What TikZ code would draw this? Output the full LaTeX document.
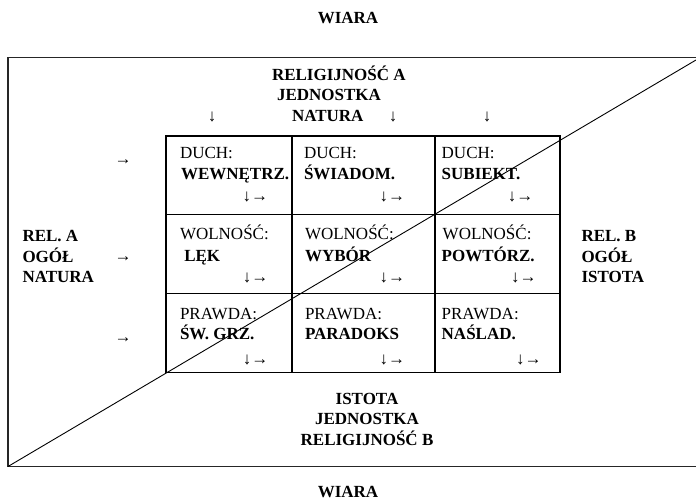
\documentclass[tikz,border=0pt]{standalone}
\usepackage{fontspec}
\setmainfont{Liberation Serif}
\begin{document}
\begin{tikzpicture}[x=1pt,y=-1pt,
  every node/.style={inner sep=0pt,outer sep=0pt,font=\fontsize{17}{20.5}\selectfont},
  rg/.style={anchor=base west},
  bd/.style={anchor=base west,font=\fontsize{17}{20.5}\selectfont\bfseries},
  bc/.style={anchor=base,font=\fontsize{17}{20.5}\selectfont\bfseries},
  ar/.style={anchor=base east},
  arc/.style={anchor=base},
  frame/.style={line width=1.3pt,draw=black!85},
  gridl/.style={line width=1.2pt},
  diag/.style={line width=0.9pt}]
\useasboundingbox (0,0) rectangle (696,501);
% frame
\coordinate (ftr) at (700,57.5);
\coordinate (ftl) at (8,57.5);
\coordinate (fbl) at (8,466.5);
\coordinate (fbr) at (700,466.5);
\draw[frame] (ftr) -- (ftl) -- (fbl) -- (fbr);
% grid
\coordinate (g1) at (166,136);
\coordinate (g2) at (560,372.5);
\draw[gridl] (g1) rectangle (g2);
\draw[gridl] (292,136) -- (292,372.5);
\draw[gridl] (435,136) -- (435,372.5);
\draw[gridl] (166,214.5) -- (560,214.5);
\draw[gridl] (166,293.5) -- (560,293.5);
% titles
\node[bc] (wtop) at (348,23.5) {WIARA};
\node[bc] (wbot) at (348,497.5) {WIARA};
\node[bd] (t1) at (272,80) {RELIGIJNOŚĆ A};
\node[bd] (t2) at (277,100.5) {JEDNOSTKA};
\node[bd] (t3) at (292,121) {NATURA};
\node[arc] (d1) at (212,121.5) {↓};
\node[arc] (d2) at (393,121.5) {↓};
\node[arc] (d3) at (487,121.5) {↓};
\node[bc] (b1) at (367,404) {ISTOTA};
\node[bc] (b2) at (367,424.5) {JEDNOSTKA};
\node[bc] (b3) at (367,445) {RELIGIJNOŚĆ B};
% side labels
\node[bd] (l1) at (22.5,241.7) {REL. A};
\node[bd] (l2) at (22.5,262.3) {OGÓŁ};
\node[bd] (l3) at (22.5,282.7) {NATURA};
\node[bd] (r1) at (581.5,241.7) {REL. B};
\node[bd] (r2) at (581.5,262.3) {OGÓŁ};
\node[bd] (r3) at (581.5,282.7) {ISTOTA};
\node[arc] (h1) at (123,164.5) {→};
\node[arc] (h2) at (123,261) {→};
\node[arc] (h3) at (123,342.8) {→};
% row 1
\node[rg] (c11a) at (180,158.7) {DUCH:};
\node[bd] (c11b) at (181,179.3) {WEWNĘTRZ.};
\node[ar] (c11c) at (268,201) {↓→};
\node[rg] (c12a) at (304,158.7) {DUCH:};
\node[bd] (c12b) at (304,179.3) {ŚWIADOM.};
\node[ar] (c12c) at (405,201) {↓→};
\node[rg] (c13a) at (441.7,158.7) {DUCH:};
\node[bd] (c13b) at (441.7,179.3) {SUBIEKT.};
\node[ar] (c13c) at (533.3,201) {↓→};
% row 2
\node[rg] (c21a) at (180,239.3) {WOLNOŚĆ:};
\node[bd] (c21b) at (184.3,261) {LĘK};
\node[ar] (c21c) at (268.3,282) {↓→};
\node[rg] (c22a) at (305,239.3) {WOLNOŚĆ:};
\node[bd] (c22b) at (305,261) {WYBÓR};
\node[ar] (c22c) at (405,282) {↓→};
\node[rg] (c23a) at (442.7,239.3) {WOLNOŚĆ:};
\node[bd] (c23b) at (441.7,261) {POWTÓRZ.};
\node[ar] (c23c) at (536.7,282) {↓→};
% row 3
\node[rg] (c31a) at (180,319.5) {PRAWDA:};
\node[bd] (c31b) at (180,339.5) {ŚW. GRZ.};
\node[ar] (c31c) at (268.3,364.5) {↓→};
\node[rg] (c32a) at (305,319.5) {PRAWDA:};
\node[bd] (c32b) at (305,339.5) {PARADOKS};
\node[ar] (c32c) at (405,364.5) {↓→};
\node[rg] (c33a) at (441.7,319.5) {PRAWDA:};
\node[bd] (c33b) at (441.7,339.5) {NAŚLAD.};
\node[ar] (c33c) at (541.7,364.5) {↓→};
% diagonal
\coordinate (dtr) at (696,60);
\draw[diag] (fbl) -- (dtr);
\end{tikzpicture}
\end{document}
